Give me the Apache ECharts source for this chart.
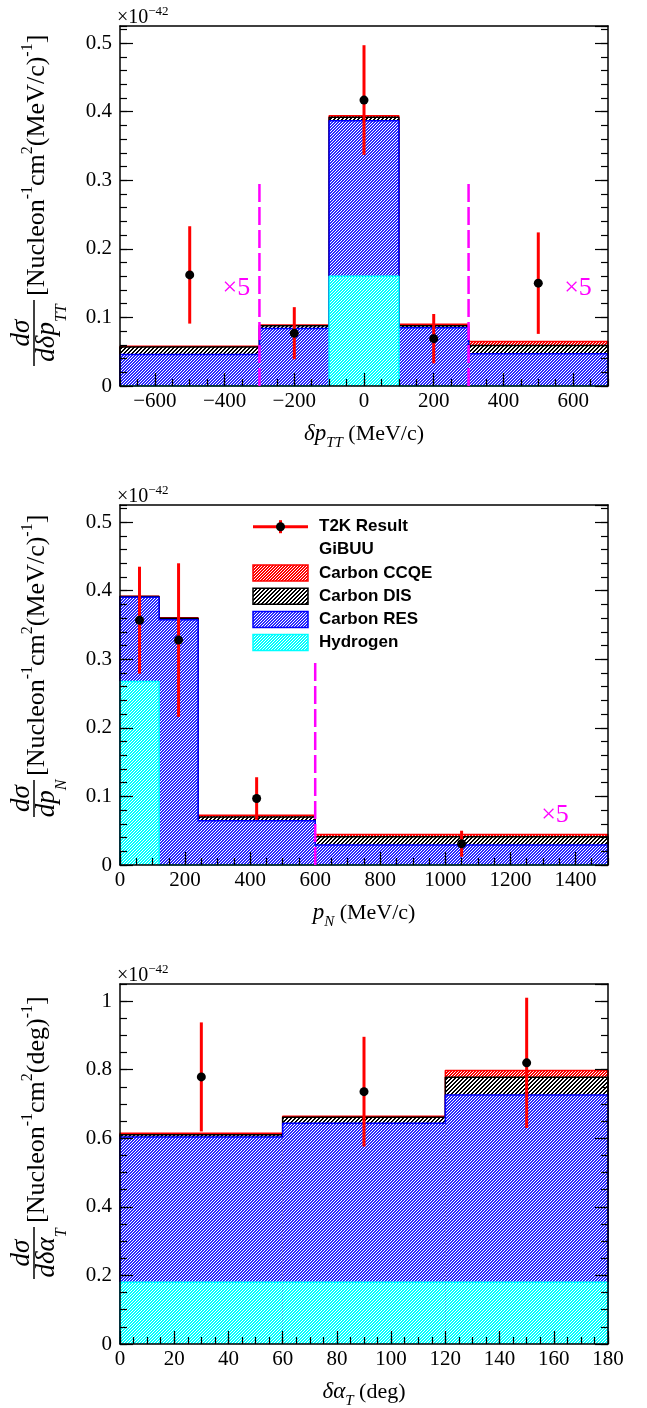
<!DOCTYPE html>
<html>
<head>
<meta charset="utf-8">
<title>T2K STV cross sections vs GiBUU</title>
<script src="https://cdn.jsdelivr.net/npm/echarts@6.0.0/dist/echarts.min.js"></script>
<style>
  html, body { margin: 0; padding: 0; background: #fff; }
  #main { width: 647px; height: 1408px; }
</style>
</head>
<body>
<div id="main"></div>
<script>
// values, in units of 1e-42

// panel 1: delta p_TT (MeV/c)
var ptEdges    = [-700, -300, -100, 100, 300, 700];
var ptHydrogen = [0, 0, 0.160, 0, 0];
var ptRes      = [0.046, 0.084, 0.227, 0.085, 0.047];
var ptDis      = [0.011, 0.004, 0.005, 0.003, 0.012];
var ptCcqe     = [0.001, 0.001, 0.002, 0.002, 0.006];
var ptDataX    = [-500, -200, 0, 200, 500];
var ptDataY    = [0.162, 0.077, 0.417, 0.069, 0.150];
var ptDataErr  = [0.071, 0.038, 0.080, 0.036, 0.074];
var ptCuts     = [-300, 300];
var ptScaleAt  = [[-366, 0.143], [614, 0.143]];

// panel 2: p_N (MeV/c)
var pnEdges    = [0, 120, 240, 600, 1500];
var pnHydrogen = [0.2675, 0, 0, 0];
var pnRes      = [0.123, 0.3575, 0.0647, 0.029];
var pnDis      = [0.001, 0.0025, 0.0053, 0.0123];
var pnCcqe     = [0.0005, 0.0005, 0.0025, 0.003];
var pnDataX    = [60, 180, 420, 1050];
var pnDataY    = [0.357, 0.328, 0.097, 0.031];
var pnDataErr  = [0.078, 0.112, 0.031, 0.019];
var pnCuts     = [600];
var pnScaleAt  = [[1337, 0.073]];

// panel 3: delta alpha_T (deg)
var atEdges    = [0, 60, 120, 180];
var atHydrogen = [0.180, 0.180, 0.180];
var atRes      = [0.424, 0.464, 0.546];
var atDis      = [0.006, 0.017, 0.052];
var atCcqe     = [0.005, 0.003, 0.020];
var atDataX    = [30, 90, 150];
var atDataY    = [0.779, 0.736, 0.820];
var atDataErr  = [0.159, 0.160, 0.190];

var cutTop = 0.3;
var legendLabels = ['T2K Result', 'GiBUU', 'Carbon CCQE', 'Carbon DIS', 'Carbon RES', 'Hydrogen'];

var SERIF = '"Liberation Serif", "Times New Roman", serif';
var SANS = '"Liberation Sans", Arial, sans-serif';

var chart = echarts.init(document.getElementById('main'));

// small canvas tiles for the ROOT style hatching
function hatch(color, period, on) {
  var c = document.createElement('canvas');
  c.width = period;
  c.height = period;
  var ctx = c.getContext('2d');
  ctx.fillStyle = '#ffffff';
  ctx.fillRect(0, 0, period, period);
  ctx.fillStyle = color;
  for (var y = 0; y < period; y++) {
    for (var x = 0; x < period; x++) {
      if ((x + y) % period < on) ctx.fillRect(x, y, 1, 1);
    }
  }
  return { image: c, repeat: 'repeat' };
}

// stack order bottom -> top : hydrogen, RES, DIS, CCQE
var stackColors = ['#00ffff', '#0000ff', '#000000', '#ff0000'];
var stackFills = [
  hatch('#00ffff', 3, 2),
  hatch('#2a2aff', 3, 2),
  hatch('#000000', 4, 2),
  hatch('#ff0000', 3, 2)
];

// panel frames
var panels = [
  { top: 26,  xMin: -700, xMax: 700,  xMajor: null, xMinor: 50, yMax: 0.525, yMajor: 0.1, yMinor: 0.02, hideMinX: true },
  { top: 505, xMin: 0,    xMax: 1500, xMajor: 200,  xMinor: 50, yMax: 0.525, yMajor: 0.1, yMinor: 0.02, hideMinX: false },
  { top: 984, xMin: 0,    xMax: 180,  xMajor: 20,   xMinor: 5,  yMax: 1.05,  yMajor: 0.2, yMinor: 0.05, hideMinX: false }
];
var plotH = 360;

var grids = [], xAxes = [], yAxes = [], series = [];

var axisLineStyle = { color: '#000', width: 1.5 };
var tickStyle = { color: '#000', width: 1.2 };

function plainNumber(v) {
  return String(v).replace('-', '\u2212');
}

panels.forEach(function (p, i) {
  grids.push({ left: 120, right: 39, top: p.top, height: plotH, outerBoundsMode: 'none' });

  var xMajor = {
    gridIndex: i, type: 'value', position: 'bottom', min: p.xMin, max: p.xMax, z: 10,
    axisLine: { show: true, onZero: false, lineStyle: axisLineStyle },
    axisTick: { show: true, inside: true, length: 13, lineStyle: tickStyle },
    axisLabel: { margin: 5, fontSize: 21, fontFamily: SERIF, color: '#000', formatter: plainNumber,
                 showMinLabel: !p.hideMinX, showMaxLabel: i === 2 },
    splitLine: { show: false }
  };
  if (p.xMajor) xMajor.interval = p.xMajor; else xMajor.splitNumber = 7;
  xAxes.push(xMajor);
  xAxes.push({
    gridIndex: i, type: 'value', position: 'bottom', min: p.xMin, max: p.xMax, interval: p.xMinor, z: 10,
    axisLine: { show: false, onZero: false }, axisLabel: { show: false }, splitLine: { show: false },
    axisTick: { show: true, inside: true, length: 7, lineStyle: tickStyle }
  });
  xAxes.push({
    gridIndex: i, type: 'value', position: 'top', min: p.xMin, max: p.xMax, z: 10,
    axisLine: { show: true, onZero: false, lineStyle: axisLineStyle },
    axisTick: { show: false }, axisLabel: { show: false }, splitLine: { show: false }
  });

  ['left', 'right'].forEach(function (side) {
    yAxes.push({
      gridIndex: i, type: 'value', position: side, min: 0, max: p.yMax, interval: p.yMajor, z: 10,
      axisLine: { show: true, onZero: false, lineStyle: axisLineStyle },
      axisTick: { show: true, inside: true, length: 13, lineStyle: tickStyle },
      axisLabel: { show: side === 'left', margin: 8, fontSize: 21, fontFamily: SERIF, color: '#000',
                   formatter: plainNumber, showMaxLabel: false },
      splitLine: { show: false }
    });
    yAxes.push({
      gridIndex: i, type: 'value', position: side, min: 0, max: p.yMax, interval: p.yMinor, z: 10,
      axisLine: { show: false, onZero: false }, axisLabel: { show: false }, splitLine: { show: false },
      axisTick: { show: true, inside: true, length: 7, lineStyle: tickStyle }
    });
  });
});

function fillItem(pattern) {
  return function (params, api) {
    var top = api.value(2);
    if (!(top > 0)) return null;
    var a = api.coord([api.value(0), 0]);
    var b = api.coord([api.value(1), top]);
    return {
      type: 'rect',
      shape: { x: a[0], y: b[1], width: b[0] - a[0], height: a[1] - b[1] },
      style: { fill: pattern }
    };
  };
}

function errItem(params, api) {
  var x = api.value(0), y = api.value(1), e = api.value(2);
  var a = api.coord([x, y - e]);
  var b = api.coord([x, y + e]);
  return { type: 'line', shape: { x1: a[0], y1: a[1], x2: b[0], y2: b[1] },
           style: { stroke: '#ff0000', lineWidth: 3 } };
}

function cutItem(params, api) {
  var a = api.coord([api.value(0), 0]);
  var b = api.coord([api.value(0), api.value(1)]);
  return { type: 'line', shape: { x1: a[0], y1: a[1], x2: b[0], y2: b[1] },
           style: { stroke: '#ff00ff', lineWidth: 2.5, lineDash: [18, 5] } };
}

function scaleItem(params, api) {
  var pt = api.coord([api.value(0), api.value(1)]);
  return { type: 'text', x: pt[0], y: pt[1],
           style: { text: '\u00d75', font: '26px "Liberation Serif"', fill: '#ff00ff',
                    align: 'center', verticalAlign: 'middle' } };
}

function addPanel(i, edges, comps, dx, dy, derr, cuts, scaleAt) {
  var xi = 3 * i, yi = 4 * i;
  var cum = [];
  var run = edges.slice(1).map(function () { return 0; });
  comps.forEach(function (arr) {
    run = run.map(function (v, b) { return v + arr[b]; });
    cum.push(run);
  });
  // ROOT THStack: the full sum first, each lower level painted on top
  for (var k = 3; k >= 0; k--) {
    var tops = cum[k];
    series.push({
      type: 'custom', xAxisIndex: xi, yAxisIndex: yi, z: 2 + 2 * (3 - k), silent: true,
      renderItem: fillItem(stackFills[k]), encode: { x: [0, 1], y: 2 },
      data: tops.map(function (t, b) { return [edges[b], edges[b + 1], t]; })
    });
    var outline = [[edges[0], 0]];
    tops.forEach(function (t, b) { outline.push([edges[b], t], [edges[b + 1], t]); });
    outline.push([edges[edges.length - 1], 0]);
    series.push({
      type: 'line', xAxisIndex: xi, yAxisIndex: yi, z: 3 + 2 * (3 - k), silent: true,
      showSymbol: false, symbol: 'none', data: outline,
      lineStyle: { color: stackColors[k], width: 1.5 }
    });
  }
  if (cuts) {
    series.push({
      type: 'custom', xAxisIndex: xi, yAxisIndex: yi, z: 12, silent: true,
      renderItem: cutItem, encode: { x: 0, y: 1 },
      data: cuts.map(function (c) { return [c, cutTop]; })
    });
  }
  if (scaleAt) {
    series.push({
      type: 'custom', xAxisIndex: xi, yAxisIndex: yi, z: 12, silent: true,
      renderItem: scaleItem, encode: { x: 0, y: 1 }, data: scaleAt
    });
  }
  series.push({
    type: 'custom', xAxisIndex: xi, yAxisIndex: yi, z: 13, silent: true,
    renderItem: errItem, encode: { x: 0, y: 1 },
    data: dx.map(function (x, j) { return [x, dy[j], derr[j]]; })
  });
  series.push({
    type: 'scatter', xAxisIndex: xi, yAxisIndex: yi, z: 14, silent: true,
    symbol: 'circle', symbolSize: 9, itemStyle: { color: '#000', opacity: 1 },
    data: dx.map(function (x, j) { return [x, dy[j]]; })
  });
}

addPanel(0, ptEdges, [ptHydrogen, ptRes, ptDis, ptCcqe], ptDataX, ptDataY, ptDataErr, ptCuts, ptScaleAt);
addPanel(1, pnEdges, [pnHydrogen, pnRes, pnDis, pnCcqe], pnDataX, pnDataY, pnDataErr, pnCuts, pnScaleAt);
addPanel(2, atEdges, [atHydrogen, atRes, atDis, atCcqe], atDataX, atDataY, atDataErr, null, null);

// ---- titles, exponents and legend ----
var graphics = [];

var expRich = { s: { fontSize: 13, fontFamily: SERIF, fill: '#000', padding: [0, 0, 13, 0] } };
panels.forEach(function (p) {
  graphics.push({
    type: 'text', x: 117, y: p.top - 8, silent: true,
    style: { text: '\u00d710{s|\u221242}', rich: expRich, fontSize: 20, fontFamily: SERIF,
             fill: '#000', align: 'left', verticalAlign: 'middle' }
  });
});

var xTitleRich = {
  i: { fontStyle: 'italic', fontSize: 23, fontFamily: SERIF, fill: '#000' },
  s: { fontStyle: 'italic', fontSize: 15, fontFamily: SERIF, fill: '#000', padding: [18, 0, 0, 0] }
};
var xTitles = ['{i|\u03b4p}{s|TT} (MeV/c)', '{i|p}{s|N} (MeV/c)', '{i|\u03b4\u03b1}{s|T} (deg)'];
panels.forEach(function (p, i) {
  graphics.push({
    type: 'text', x: 364, y: p.top + plotH + 48, silent: true,
    style: { text: xTitles[i], rich: xTitleRich, fontSize: 22, fontFamily: SERIF,
             fill: '#000', align: 'center', verticalAlign: 'middle' }
  });
});

var fracRich = {
  i: { fontStyle: 'italic', fontSize: 27, fontFamily: SERIF, fill: '#000' },
  s: { fontStyle: 'italic', fontSize: 16, fontFamily: SERIF, fill: '#000', padding: [30, 0, 0, 0] }
};
var unitRich = {
  m: { fontSize: 26, fontFamily: SERIF, fill: '#000' },
  u: { fontSize: 16, fontFamily: SERIF, fill: '#000', padding: [0, 0, 18, 0] }
};

function yTitle(yStart, fracLen, denom, unit) {
  return {
    type: 'group', x: 0, y: yStart, rotation: Math.PI / 2, silent: true,
    children: [
      { type: 'text', x: fracLen / 2, y: 22,
        style: { text: 'd\u03c3', fontStyle: 'italic', fontSize: 27, fontFamily: SERIF, fill: '#000',
                 align: 'center', verticalAlign: 'middle' } },
      { type: 'line', shape: { x1: 0, y1: 34, x2: fracLen, y2: 34 },
        style: { stroke: '#000', lineWidth: 1.5 } },
      { type: 'text', x: fracLen / 2, y: 47,
        style: { text: denom, rich: fracRich, fontStyle: 'italic', fontSize: 27, fontFamily: SERIF,
                 fill: '#000', align: 'center', verticalAlign: 'middle' } },
      { type: 'text', x: fracLen + 4, y: 37,
        style: { text: '{m|[Nucleon}{u|-1}{m|cm}{u|2}{m|' + unit + '}{u|-1}{m|]}', rich: unitRich,
                 fontSize: 26, fontFamily: SERIF, fill: '#000', align: 'left', verticalAlign: 'middle' } }
    ]
  };
}
graphics.push(yTitle(366, 66, '{i|d\u03b4p}{s|TT}', '(MeV/c)'));
graphics.push(yTitle(817, 37, '{i|dp}{s|N}', '(MeV/c)'));
graphics.push(yTitle(1279, 52, '{i|d\u03b4\u03b1}{s|T}', '(deg)'));

// legend in the middle panel
var legRows = [526.7, 549.5, 573, 596.3, 619.5, 642.5];
var legX0 = 253, legX1 = 308, legTextX = 319;
graphics.push({ type: 'line', silent: true, z: 20, shape: { x1: legX0, y1: legRows[0], x2: legX1, y2: legRows[0] },
                style: { stroke: '#ff0000', lineWidth: 3 } });
graphics.push({ type: 'line', silent: true, z: 20,
                shape: { x1: (legX0 + legX1) / 2, y1: legRows[0] - 6.5, x2: (legX0 + legX1) / 2, y2: legRows[0] + 6.5 },
                style: { stroke: '#ff0000', lineWidth: 3 } });
graphics.push({ type: 'circle', silent: true, z: 21, shape: { cx: (legX0 + legX1) / 2, cy: legRows[0], r: 4.5 },
                style: { fill: '#000' } });
// boxes: CCQE, DIS, RES, Hydrogen
[3, 2, 1, 0].forEach(function (k, j) {
  var cy = legRows[j + 2];
  graphics.push({ type: 'rect', silent: true, z: 20,
                  shape: { x: legX0, y: cy - 8, width: legX1 - legX0, height: 16 },
                  style: { fill: stackFills[k], stroke: stackColors[k], lineWidth: 1.5 } });
});
legendLabels.forEach(function (t, j) {
  graphics.push({ type: 'text', silent: true, z: 20, x: legTextX, y: legRows[j],
                  style: { text: t, fontSize: 17, fontWeight: 'bold', fontFamily: SANS, fill: '#000',
                           align: 'left', verticalAlign: 'middle' } });
});

var option = {
  animation: false,
  backgroundColor: '#ffffff',
  grid: grids,
  xAxis: xAxes,
  yAxis: yAxes,
  series: series,
  graphic: graphics
};

chart.setOption(option);

window.addEventListener('resize', function () {
  chart.resize();
});
</script>
</body>
</html>
